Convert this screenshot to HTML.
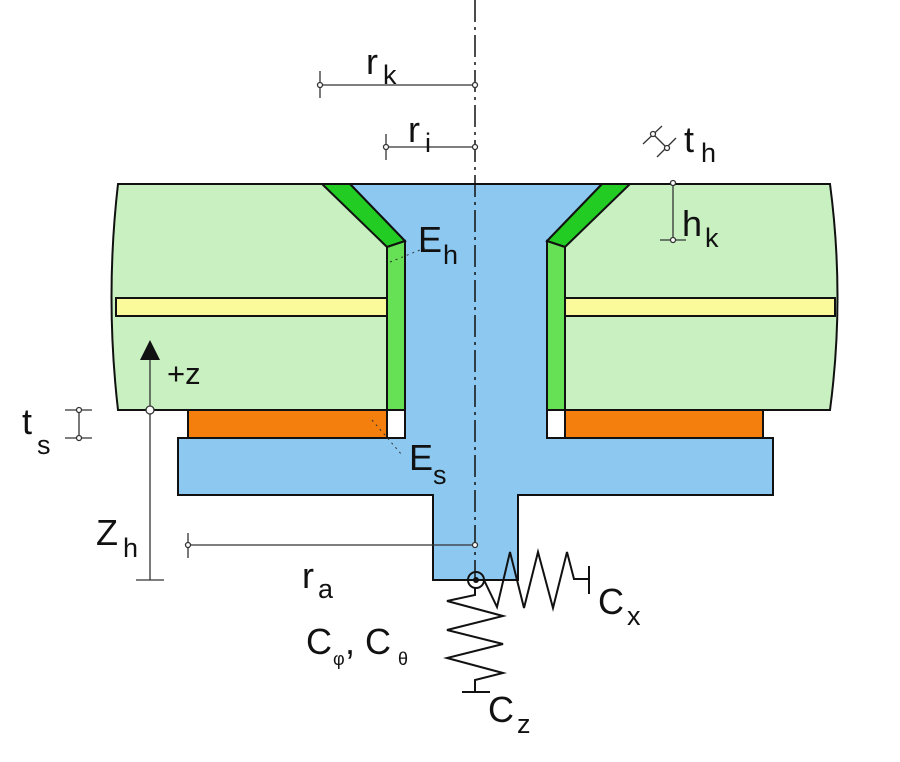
<!DOCTYPE html>
<html><head><meta charset="utf-8"><style>
html,body{margin:0;padding:0;background:#fff;width:900px;height:762px;overflow:hidden}
text{font-family:"Liberation Sans",sans-serif;fill:#111}
</style></head><body>
<svg width="900" height="762" viewBox="0 0 900 762" xmlns="http://www.w3.org/2000/svg">
<path d="M118 184 L387 184 L387 410 L118 410 Q105 297 118 184 Z" fill="#c8f0c0" stroke="#111" stroke-width="2"/>
<path d="M565 184 L830 184 Q845 297 830 410 L565 410 Z" fill="#c8f0c0" stroke="#111" stroke-width="2"/>
<rect x="116" y="298" width="271" height="18" fill="#fafa9a" stroke="#111" stroke-width="2"/>
<rect x="565" y="298" width="270" height="18" fill="#fafa9a" stroke="#111" stroke-width="2"/>
<path d="M350 184 L602 184 L547 241 L547 438 L773 438 L773 495 L518 495 L518 580 L433 580 L433 495 L178 495 L178 438 L405 438 L405 241 Z" fill="#8cc8f0" stroke="#111" stroke-width="2"/>
<path d="M322 184 L350 184 L405 241 L387 247 Z" fill="#22cc22" stroke="#111" stroke-width="2"/>
<path d="M630 184 L602 184 L547 241 L565 247 Z" fill="#22cc22" stroke="#111" stroke-width="2"/>
<path d="M387 247 L405 241 L405 410 L387 410 Z" fill="#66e055" stroke="#111" stroke-width="2"/>
<path d="M565 247 L547 241 L547 410 L565 410 Z" fill="#66e055" stroke="#111" stroke-width="2"/>
<rect x="188" y="410" width="199" height="28" fill="#f57f0c" stroke="#111" stroke-width="2"/>
<rect x="565" y="410" width="198" height="28" fill="#f57f0c" stroke="#111" stroke-width="2"/>
<rect x="387" y="410" width="18" height="28" fill="#fff" stroke="#111" stroke-width="2"/>
<rect x="547" y="410" width="18" height="28" fill="#fff" stroke="#111" stroke-width="2"/>
<line x1="475" y1="0" x2="475" y2="580" stroke="#111" stroke-width="1.5" stroke-dasharray="22,5,3,5"/>
<g stroke="#333" stroke-width="1.3" fill="#fff">
<line x1="320" y1="85" x2="475" y2="85"/><line x1="320" y1="71" x2="320" y2="98"/><circle cx="320" cy="85" r="2.5"/><circle cx="475" cy="85" r="2.5"/>
<line x1="386" y1="147" x2="475" y2="147"/><line x1="386" y1="134" x2="386" y2="160"/><circle cx="386" cy="147" r="2.5"/><circle cx="475" cy="147" r="2.5"/>
<line x1="673" y1="183" x2="673" y2="240"/><line x1="660" y1="240" x2="686" y2="240"/><circle cx="673" cy="183" r="2.5"/><circle cx="673" cy="240" r="2.5"/>
<line x1="653" y1="134" x2="667" y2="148"/><line x1="643" y1="144" x2="662" y2="126"/><line x1="657" y1="157" x2="676" y2="138"/><circle cx="653" cy="134" r="2.5"/><circle cx="667" cy="148" r="2.5"/>
<line x1="79" y1="410" x2="79" y2="438"/><line x1="65" y1="410" x2="92" y2="410"/><line x1="65" y1="438" x2="92" y2="438"/><circle cx="79" cy="410" r="2.5"/><circle cx="79" cy="438" r="2.5"/>
<line x1="150" y1="360" x2="150" y2="580"/><line x1="136" y1="580" x2="164" y2="580"/><circle cx="150" cy="410" r="4"/>
<line x1="188" y1="545" x2="475" y2="545"/><line x1="188" y1="533" x2="188" y2="558"/><circle cx="188" cy="545" r="2.5"/><circle cx="475" cy="545" r="2.5"/>
</g>
<polygon points="150,340 140,360 160,360" fill="#111"/>
<g stroke="#111" stroke-width="2" fill="none">
<polyline points="484,580 497,607 510,552 524,608 538,552 553,608 567,552 574,579 588,579"/>
<line x1="589" y1="566" x2="589" y2="594"/>
<polyline points="475,588 475,595 447,601 503,616 447,630 503,644 447,658 503,673 475,680 475,692"/>
<line x1="462" y1="692" x2="490" y2="692"/>
</g>
<circle cx="476" cy="580" r="8" fill="none" stroke="#111" stroke-width="2"/>
<circle cx="476" cy="580" r="3" fill="#111"/>
<g stroke="#333" stroke-width="1" stroke-dasharray="2,4"><line x1="390" y1="262" x2="425" y2="248"/><line x1="372" y1="420" x2="402" y2="455"/></g>
<g font-size="36">
<text x="366" y="74">r</text><text x="383" y="84" font-size="27">k</text>
<text x="408" y="142">r</text><text x="425" y="152" font-size="27">i</text>
<text x="684" y="152">t</text><text x="701" y="162" font-size="27">h</text>
<text x="682" y="236">h</text><text x="705" y="247" font-size="27">k</text>
<text x="418" y="252">E</text><text x="443" y="264" font-size="27">h</text>
<text x="409" y="470">E</text><text x="433" y="484" font-size="27">s</text>
<text x="167" y="384" font-size="31">+z</text>
<text x="22" y="434">t</text><text x="37" y="454" font-size="27">s</text>
<text x="96" y="545">Z</text><text x="123" y="557" font-size="27">h</text>
<text x="302" y="588">r</text><text x="318" y="598" font-size="27">a</text>
<text x="598" y="614">C</text><text x="627" y="625" font-size="27">x</text>
<text x="306" y="654">C</text><text x="333" y="665" font-size="18">φ</text><text x="345" y="654">, C</text><text x="398" y="665" font-size="18">θ</text>
<text x="488" y="722">C</text><text x="517" y="733" font-size="27">z</text>
</g>
</svg>
</body></html>
